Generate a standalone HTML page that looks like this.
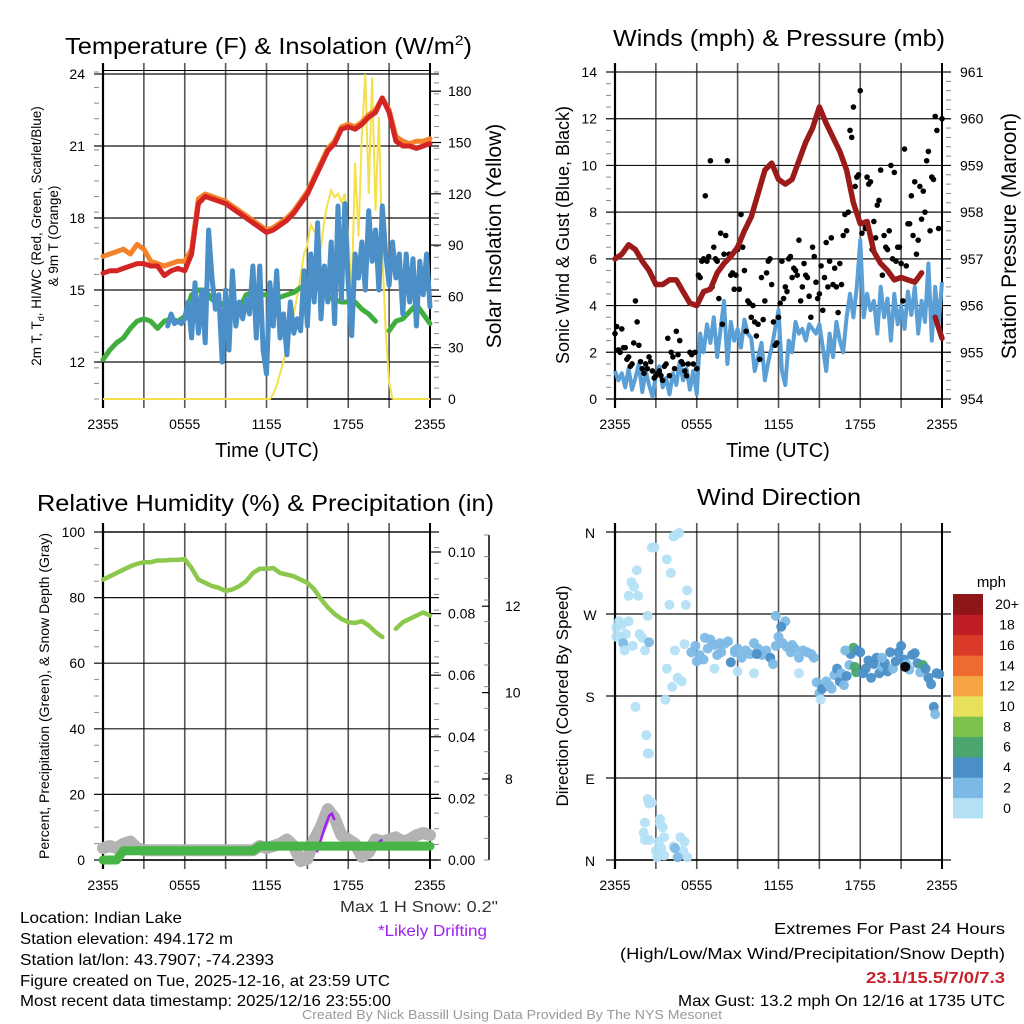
<!DOCTYPE html>
<html><head><meta charset="utf-8"><style>
body{margin:0;background:#fff;}
svg{display:block;font-family:"Liberation Sans",Arial,sans-serif;}
</style></head><body>
<svg id="c" width="1024" height="1024" viewBox="0 0 1024 1024">
<rect width="1024" height="1024" fill="#fff"/>
<g id="g"></g>
<text x="65" y="54" font-size="23" textLength="407" lengthAdjust="spacingAndGlyphs">Temperature (F) &amp; Insolation (W/m<tspan font-size="14" dy="-9">2</tspan><tspan dy="9">)</tspan></text>
<text x="613" y="46" font-size="23" textLength="332" lengthAdjust="spacingAndGlyphs">Winds (mph) &amp; Pressure (mb)</text>
<text x="37" y="511" font-size="23" textLength="457" lengthAdjust="spacingAndGlyphs">Relative Humidity (%) &amp; Precipitation (in)</text>
<text x="697" y="505" font-size="23" textLength="164" lengthAdjust="spacingAndGlyphs">Wind Direction</text>
<text transform="translate(41,236) rotate(-90)" font-size="13.5" text-anchor="middle">2m T, T<tspan font-size="9" dy="3">d</tspan><tspan dy="-3">, HI/WC (Red, Green, Scarlet/Blue)</tspan></text>
<text transform="translate(58,236) rotate(-90)" font-size="13.5" text-anchor="middle">&amp; 9m T (Orange)</text>
<text transform="translate(501,236) rotate(-90)" font-size="21" text-anchor="middle">Solar Insolation (Yellow)</text>
<text x="267" y="457" font-size="20" text-anchor="middle">Time (UTC)</text>
<text transform="translate(569,235) rotate(-90)" font-size="18" text-anchor="middle">Sonic Wind &amp; Gust (Blue, Black)</text>
<text transform="translate(1016,236) rotate(-90)" font-size="21" text-anchor="middle">Station Pressure (Maroon)</text>
<text x="778" y="457" font-size="20" text-anchor="middle">Time (UTC)</text>
<text transform="translate(49,696) rotate(-90)" font-size="14" text-anchor="middle">Percent, Precipitation (Green), &amp; Snow Depth (Gray)</text>
<text transform="translate(568,696) rotate(-90)" font-size="17" text-anchor="middle">Direction (Colored By Speed)</text>
<text x="1006" y="587" font-size="15" text-anchor="end">mph</text>
<text x="340" y="912" font-size="16" fill="#333" textLength="158" lengthAdjust="spacingAndGlyphs">Max 1 H Snow: 0.2"</text>
<text x="378" y="936" font-size="16" fill="#a020f0" textLength="109" lengthAdjust="spacingAndGlyphs">*Likely Drifting</text>
<g font-size="16">
<text x="20" y="923" textLength="162" lengthAdjust="spacingAndGlyphs">Location: Indian Lake</text>
<text x="20" y="944" textLength="213" lengthAdjust="spacingAndGlyphs">Station elevation: 494.172 m</text>
<text x="20" y="965" textLength="254" lengthAdjust="spacingAndGlyphs">Station lat/lon: 43.7907; -74.2393</text>
<text x="20" y="986" textLength="370" lengthAdjust="spacingAndGlyphs">Figure created on Tue, 2025-12-16, at 23:59 UTC</text>
<text x="20" y="1006" textLength="371" lengthAdjust="spacingAndGlyphs">Most recent data timestamp: 2025/12/16 23:55:00</text>
</g>
<g font-size="16">
<text x="774" y="934" textLength="231" lengthAdjust="spacingAndGlyphs">Extremes For Past 24 Hours</text>
<text x="620" y="959" textLength="385" lengthAdjust="spacingAndGlyphs">(High/Low/Max Wind/Precipitation/Snow Depth)</text>
<text x="866" y="983" font-weight="bold" fill="#c8202a" textLength="139" lengthAdjust="spacingAndGlyphs">23.1/15.5/7/0/7.3</text>
<text x="678" y="1006" textLength="327" lengthAdjust="spacingAndGlyphs">Max Gust: 13.2 mph On 12/16 at 1735 UTC</text>
</g>
<text x="302" y="1019" font-size="13" fill="#999" textLength="420" lengthAdjust="spacingAndGlyphs">Created By Nick Bassill Using Data Provided By The NYS Mesonet</text>
</svg>
<script>
// ---- data (hours after 2355) ----
const timeLabels=["2355","0555","1155","1755","2355"];
const tempTicks=[12,15,18,21,24];
const solarTicks=[0,30,60,90,120,150,180];
const windTicks=[0,2,4,6,8,10,12,14];
const presTicks=[954,955,956,957,958,959,960,961];
const rhTicks=[0,20,40,60,80,100];
const precipTicks=["0.00","0.02","0.04","0.06","0.08","0.10"];
const snowTicks=[8,10,12];
const dirLabels=["N","E","S","W","N"];
const cbLabels=["0","2","4","6","8","10","12","14","16","18","20+"];
const cbColors=["#b4e0f5","#7db9e5","#4a8fc8","#4aa66e","#7cc14c","#e6e05a","#f6a544","#ef6a2f","#dc3a28","#be1e23","#8e1518"];
// half-hourly
const tempRed=[15.7,15.8,15.8,15.9,16.0,16.1,16.1,16.0,16.0,15.6,15.8,15.9,15.8,16.5,18.6,18.9,18.8,18.7,18.6,18.4,18.2,18.0,17.8,17.6,17.4,17.5,17.7,17.9,18.2,18.6,19.0,19.6,20.2,20.8,21.1,21.7,21.8,21.7,21.9,22.2,22.4,23.0,22.4,21.2,21.0,21.0,20.9,21.0,21.1];
const temp9m=[16.4,16.5,16.6,16.7,16.5,16.9,16.7,16.2,16.1,16.0,16.1,16.2,16.2,16.7,18.8,19.0,18.9,18.8,18.7,18.5,18.3,18.1,17.9,17.7,17.5,17.6,17.8,18.0,18.3,18.7,19.1,19.7,20.3,20.9,21.2,21.8,21.9,21.8,22.0,22.3,22.5,23.0,22.5,21.4,21.2,21.1,21.2,21.2,21.3];
const dewpt=[12.1,12.5,12.8,13.0,13.4,13.7,13.8,13.7,13.4,13.7,13.8,13.7,13.9,14.8,15.0,15.0,14.6,14.5,14.3,14.0,14.2,14.8,14.9,14.8,14.8,14.7,14.7,14.8,14.9,15.1,15.1,15.1,15.0,14.7,14.6,14.5,14.5,14.5,14.2,14.0,13.7,null,13.3,13.7,13.8,14.1,14.4,14.0,13.6];
// quarter-hourly from t=4.75
const windChill=[13.5,14.0,13.6,13.7,13.6,13.8,14.5,13.0,15.3,13.2,15.0,12.8,17.5,15.5,14.2,14.8,12.0,15.0,12.5,15.8,13.5,14.5,13.8,14.6,14.0,16.0,13.0,16.0,12.5,11.5,15.3,13.5,15.8,13.0,14.0,12.3,14.5,13.2,13.8,13.3,15.8,13.5,16.5,14.5,17.8,13.8,16.0,14.5,17.0,13.6,18.5,14.6,18.6,15.2,13.1,16.5,15.5,17.0,15.0,18.3,16.2,17.5,15.0,18.5,16.5,15.2,17.0,15.5,16.5,14.0,16.5,14.5,16.3,13.5,16.2,14.8,16.5,14.3];
// quarter-hourly from t=12
const solar=[0,0,3,8,15,22,30,40,50,60,72,85,90,102,98,100,88,105,115,122,118,120,115,120,95,62,138,95,155,190,120,188,110,165,85,40,10,0];
// quarter-hourly
const windSpd=[1.2,0.8,1.1,0.5,1.3,0.4,0.9,1.5,0.3,1.2,0.6,0.1,1.0,1.4,0.5,0.9,0.2,1.1,0.6,1.6,0.8,1.3,0.4,1.2,0.2,2.8,2.0,3.2,2.4,3.5,1.8,3.0,4.2,1.5,3.3,2.5,3.0,2.2,3.4,2.8,2.6,1.2,1.8,2.4,0.8,1.6,2.2,3.0,3.8,1.2,0.6,2.5,2.0,3.3,2.8,3.0,2.5,3.2,3.0,2.8,3.2,2.2,1.2,2.8,1.8,3.3,2.5,2.0,3.5,4.5,3.5,4.8,6.8,3.5,4.5,3.8,4.2,2.8,4.8,3.5,4.3,2.5,4.5,3.2,4.0,3.0,4.6,3.6,4.8,2.8,4.2,3.3,5.8,2.5,4.8,3.2,5.0];
const windGust=[2.8,2.1,3.0,2.2,1.8,1.5,4.2,2.3,1.3,1.5,1.8,1.2,1.0,1.2,0.8,1.5,1.0,1.8,2.9,2.5,1.5,1.0,2.0,1.5,1.3,5.2,6.0,5.9,10.2,6.5,5.9,7.1,6.2,10.2,5.3,4.7,6.4,7.9,5.5,4.2,3.5,3.3,3.2,5.2,4.2,5.9,4.9,2.3,3.5,5.9,4.8,6.0,5.2,5.5,6.8,4.8,5.3,4.4,6.5,5.0,4.5,3.8,6.7,5.9,4.9,4.8,5.8,7.0,7.2,11.5,12.5,9.5,13.2,7.5,9.5,9.3,7.6,8.3,9.8,7.0,6.4,10.0,9.7,6.5,5.8,10.7,7.5,8.7,9.3,6.8,7.7,8.0,10.6,9.5,12.1,7.3,12.0];
const windGust2=[3.1,2.0,2.2,1.7,1.4,2.4,3.3,1.6,1.1,1.3,1.6,0.9,1.1,1.0,1.4,2.6,2.0,1.3,1.9,1.6,1.2,1.5,1.9,2.0,5.3,5.9,8.7,6.1,4.8,6.0,4.3,3.2,7.0,6.2,5.4,5.3,4.7,6.5,2.9,4.1,4.0,2.7,1.7,3.4,5.4,6.0,3.3,2.4,4.1,4.3,4.6,6.1,5.6,5.3,4.2,5.8,5.2,3.5,6.1,4.3,5.7,5.2,4.8,6.9,5.6,3.7,4.9,7.9,8.0,11.2,9.1,9.6,7.1,7.3,9.2,6.4,6.9,8.5,5.3,6.5,7.2,6.0,5.9,6.5,4.2,5.7,7.5,7.0,6.2,9.1,8.9,10.2,7.2,9.4,11.5];
// half-hourly
const pressure=[957.0,957.1,957.3,957.2,956.95,956.75,956.45,956.45,956.55,956.55,956.3,956.05,956.0,956.3,956.35,956.7,956.9,957.05,957.25,957.6,957.9,958.4,958.9,959.05,958.7,958.6,958.7,959.1,959.5,959.8,960.25,959.9,959.6,959.3,958.9,958.2,957.75,957.8,957.15,956.9,956.75,956.55,956.6,956.55,956.5,956.7,null,955.75,955.3];
const rh=[85.5,86.5,87.5,88.5,89.5,90.3,90.8,90.8,91.3,91.3,91.5,91.5,91.7,89,85.5,84.5,83.5,83,82,82.5,83.5,85,87.5,88.8,88.8,89,87.5,87,86.5,85.5,84.5,82.5,79.5,77,75,73.5,72.5,72.3,72.8,71.5,69.5,68,null,70.5,72.5,73.5,74.5,75.5,74.5,72.5];
const precip=[0,0,0,0.003,0.003,0.003,0.003,0.003,0.003,0.003,0.003,0.003,0.003,0.003,0.003,0.003,0.003,0.003,0.003,0.003,0.003,0.003,0.003,0.0045,0.0045,0.0045,0.0045,0.0045,0.0045,0.0045,0.0045,0.0045,0.0045,0.0045,0.0045,0.0045,0.0045,0.0045,0.0045,0.0045,0.0045,0.0045,0.0045,0.0045,0.0045,0.0045,0.0045,0.0045,0.0045];
const snowDepth=[6.4,6.45,6.4,6.5,6.55,6.4,6.35,6.35,6.35,6.35,6.35,6.35,6.35,6.35,6.35,6.35,6.35,6.35,6.35,6.35,6.35,6.35,6.35,6.45,6.4,6.45,6.5,6.6,6.45,6.1,6.15,6.6,6.9,7.3,7.1,6.7,6.6,6.5,6.2,6.3,6.6,6.55,6.6,6.65,6.55,6.6,6.7,6.75,6.7];
const driftT=[15.7,16.0,16.3,16.6,16.8,17.0,20.1,20.5];
const driftV=[6.3,6.6,6.9,7.15,7.2,7.05,6.5,6.6];
// wind direction scatter
const dirTime=[0.1,0.1,0.3,0.4,0.5,0.6,0.7,0.8,1.0,1.2,1.4,1.6,1.0,1.3,1.5,1.7,1.8,2.0,2.2,2.4,2.5,2.3,2.4,2.5,2.4,2.5,2.7,2.2,2.1,2.2,2.5,2.7,2.9,3.0,3.1,3.2,3.3,3.3,3.5,3.6,3.4,3.6,3.8,4.0,3.8,4.1,4.3,4.4,4.7,3.7,4.2,4.4,4.6,4.9,5.1,5.2,5.3,5.0,5.1,5.3,4.3,4.4,4.6,4.8,5.6,5.9,6.2,6.5,6.8,7.0,7.3,7.5,7.8,8.0,8.3,8.5,8.8,9.0,9.3,9.6,9.9,10.2,10.5,10.8,11.1,11.4,11.6,11.8,12.0,12.3,12.6,12.9,13.2,13.5,13.8,14.1,14.4,14.6,7.3,9.0,10.2,11.8,12.5,12.2,13.5,14.8,15.0,15.1,15.2,15.5,15.7,15.9,16.1,16.3,16.5,16.6,16.8,17.0,17.2,17.3,17.5,17.6,17.7,17.8,18.0,18.2,18.4,18.6,18.8,19.0,19.2,19.4,19.6,19.8,20.0,20.2,20.4,20.6,20.8,21.0,21.2,21.4,21.6,21.8,22.0,22.2,22.4,22.6,22.8,23.0,23.2,23.4,23.5,23.6,23.8,6.0,6.6,7.7,8.8,10.4,13.0,16.9,19.6,21.3];
const dirDeg=[255,245,262,245,258,238,230,248,290,305,300,318,262,235,168,290,248,244,230,268,239,137,117,117,67,62,63,41,30,22,22,343,343,10,3,20,45,40,36,25,13,5,330,280,210,315,355,356,359,176,190,230,200,196,237,280,296,10,20,3,15,13,3,25,228,235,225,220,232,242,236,225,228,237,240,217,228,232,222,230,226,238,232,225,230,222,215,235,245,238,234,228,232,222,230,228,226,222,210,207,205,268,262,256,205,195,183,176,188,196,192,188,203,210,196,205,192,202,214,226,233,212,206,230,228,205,210,219,200,215,222,205,212,216,207,228,210,218,228,235,220,215,209,225,227,216,206,214,210,200,193,168,160,205,204,218,244,238,230,226,236,230,222,212];
const dirSpd=[1,1,1,1,0.5,3,1,1,1,1,1,1,1,1,0,1,1,1,1,1,3,1,1,1,1,1,1,1,1,1,1,1,1,0,0,1,1,1,1,1,0,1,1,1,1,1,1,1,1,1,1,0,1,1,1,1,1,1,1,1,1,3,3,1,2,2,2,2,2,2,2,2,2,2,2,4,2,2,2,2,2,2,2,2,2,4,2,2,2,2,2,2,2,2,2,2,2,2,1,1,0,2,2,4,1,2,2,1,4,2,2,2,2,4,4,2,2,4,2,4,6,6,6,4,4,4,4,4,4,4,4,4,2,4,4,4,2,4,4,4,4,2,2,4,4,4,2,6,4,4,4,4,2,4,4,2,2,3,3,4,2,2,2];

// ---- drawing ----
const NS='http://www.w3.org/2000/svg';
const G=document.getElementById('g');
function mk(tag,attrs,name,parent){
  const el=document.createElementNS(NS,tag);
  for(const k in attrs) el.setAttribute(k,attrs[k]);
  
  
  (parent||G).appendChild(el);
  return el;
}
function txt(x,y,s,size,anchor,name){
  const t=mk('text',{x:x,y:y,'font-size':size,'text-anchor':anchor},name);
  t.textContent=s;return t;
}
function linePath(ts,vs,xf,yf){
  let d='',pen=false;
  for(let i=0;i<vs.length;i++){
    if(vs[i]===null||vs[i]===undefined){pen=false;continue;}
    const X=xf(ts[i]).toFixed(1),Y=yf(vs[i]).toFixed(1);
    d+=(pen?'L':'M')+X+' '+Y;pen=true;
  }
  return d;
}
function seq(n,start,step){const a=[];for(let i=0;i<n;i++)a.push(start+i*step);return a;}

function panel(p){
  const xs=t=>p.x0+t*(p.x1-p.x0)/24;
  for(let i=0;i<=8;i++){
    const X=xs(i*3);
    mk('line',{x1:X,x2:X,y1:p.yTop-9,y2:p.yBot+9,stroke:'#555','stroke-width':1.6},p.name+'-vgrid');
  }
  timeLabels.forEach((l,i)=>{txt(xs(i*6),p.yBot+30,l,14,'middle',p.name+'-x-tick-label');});
  return xs;
}
function hgrid(p,Y){mk('line',{x1:p.x0-9,x2:p.x1+(p.rightTicks?9:0),y1:Y,y2:Y,stroke:'#111','stroke-width':1.2},p.name+'-hgrid');}
function frame(p){
  mk('line',{x1:p.x0,x2:p.x0,y1:p.yTop-9,y2:p.yBot+9,stroke:'#000','stroke-width':2.2},p.name+'-left-axis');
  mk('line',{x1:p.x1,x2:p.x1,y1:p.yTop-9,y2:p.yBot+9,stroke:'#000','stroke-width':2},p.name+'-right-axis');
  mk('line',{x1:p.x0,x2:p.x1,y1:p.yBot,y2:p.yBot,stroke:'#000','stroke-width':1.5},p.name+'-bottom-axis');
}
function minorTicks(x,y0,y1,n,dir,name){
  for(let i=0;i<=n;i++){const Y=y0+(y1-y0)*i/n;mk('line',{x1:x,x2:x+dir*5,y1:Y,y2:Y,stroke:'#888','stroke-width':1},name);}
}

// ===== Panel 1: temperature =====
const P1={x0:103,x1:430,yTop:72,yBot:399,name:'temp',rightTicks:true};
const xs1=panel(P1);
const yT=v=>362-(v-12)*24;
const yS=v=>399-v*(51.3/30);
minorTicks(99,72,399,21,-1,'temp-left-minor-tick');
minorTicks(434,72,399,30,1,'solar-right-minor-tick');
tempTicks.forEach(v=>{hgrid(P1,yT(v));txt(85,yT(v)+5,String(v),14,'end','temp-y-tick-label');});
mk('line',{x1:103,x2:430,y1:70.5,y2:70.5,stroke:'#000','stroke-width':1},'temp-top-border');
solarTicks.forEach(v=>{mk('line',{x1:430,x2:441,y1:yS(v),y2:yS(v),stroke:'#000','stroke-width':1.2},'solar-y-tick');txt(448,yS(v)+5,String(v),14,'start','solar-y-tick-label');});
frame(P1);
const t48=seq(49,0,0.5);
mk('path',{d:linePath(seq(38,12,0.25),solar,xs1,yS),fill:'none',stroke:'#f5e04a','stroke-width':2},'solar-line');
mk('path',{d:'M'+xs1(0)+' '+yS(0)+'L'+xs1(12)+' '+yS(0)+'M'+xs1(21.25)+' '+yS(0)+'L'+xs1(24)+' '+yS(0),fill:'none',stroke:'#f5e04a','stroke-width':2},'solar-zero-line');
mk('path',{d:linePath(t48,dewpt,xs1,yT),fill:'none',stroke:'#3fae3f','stroke-width':5,'stroke-linejoin':'round','stroke-linecap':'round'},'dewpoint-line');
mk('path',{d:linePath(seq(78,4.75,0.25),windChill,xs1,yT),fill:'none',stroke:'#4a8fc8','stroke-width':5,'stroke-linejoin':'round','stroke-linecap':'round'},'windchill-line');
mk('path',{d:linePath(t48,temp9m,xs1,yT),fill:'none',stroke:'#f4822a','stroke-width':5,'stroke-linejoin':'round','stroke-linecap':'round'},'temp-9m-line');
mk('path',{d:linePath(t48,tempRed,xs1,yT),fill:'none',stroke:'#d42525','stroke-width':5,'stroke-linejoin':'round','stroke-linecap':'round'},'temp-2m-line');

// ===== Panel 2: winds =====
const P2={x0:615,x1:942,yTop:72,yBot:399,name:'wind',rightTicks:true};
const xs2=panel(P2);
const yW=v=>399-v*(327/14);
const yP=v=>399-(v-954)*(327/7);
minorTicks(611,72,399,28,-1,'wind-left-minor-tick');
minorTicks(946,72,399,35,1,'pressure-right-minor-tick');
windTicks.forEach(v=>{hgrid(P2,yW(v));txt(597,yW(v)+5,String(v),14,'end','wind-y-tick-label');});
presTicks.forEach(v=>{txt(960,yP(v)+5,String(v),14,'start','pressure-y-tick-label');});
frame(P2);
const t96=seq(97,0,0.25);
mk('path',{d:linePath(t96,windSpd,xs2,yW),fill:'none',stroke:'#5a9fd6','stroke-width':4,'stroke-linejoin':'round'},'sonic-wind-line');
windGust.forEach((v,i)=>{mk('circle',{cx:xs2(t96[i]),cy:yW(v),r:2.8,fill:'#000'},'gust-dot');});
windGust2.forEach((v,i)=>{mk('circle',{cx:xs2(0.125+i*0.25),cy:yW(v),r:2.8,fill:'#000'},'gust-dot');});
mk('path',{d:linePath(t48,pressure,xs2,yP),fill:'none',stroke:'#9b1b1b','stroke-width':5.5,'stroke-linejoin':'round','stroke-linecap':'round'},'pressure-line');

// ===== Panel 3: RH & precip =====
const P3={x0:103,x1:430,yTop:532,yBot:860,name:'rh',rightTicks:true};
const xs3=panel(P3);
const yR=v=>860-v*3.28;
const yPr=v=>860-v*3080;
const ySn=v=>779-(v-8)*43.2;
minorTicks(99,532,860,20,-1,'rh-left-minor-tick');
minorTicks(434,532,860,21,1,'precip-right-minor-tick');
rhTicks.forEach(v=>{hgrid(P3,yR(v));txt(85,yR(v)+5,String(v),14,'end','rh-y-tick-label');});
mk('line',{x1:103,x2:430,y1:532,y2:532,stroke:'#000','stroke-width':1.2},'rh-top-border');
precipTicks.forEach(v=>{const Y=yPr(parseFloat(v));mk('line',{x1:430,x2:441,y1:Y,y2:Y,stroke:'#000','stroke-width':1.2},'precip-y-tick');txt(448,Y+5,v,14,'start','precip-y-tick-label');});
mk('line',{x1:489,x2:489,y1:535,y2:860,stroke:'#000','stroke-width':1.5},'snow-axis');
for(let i=0;i<=15;i++){const Y=535+i*(325/15);mk('line',{x1:489,x2:484,y1:Y,y2:Y,stroke:'#888','stroke-width':1},'snow-minor-tick');}
snowTicks.forEach(v=>{mk('line',{x1:489,x2:482,y1:ySn(v),y2:ySn(v),stroke:'#000','stroke-width':1.2},'snow-y-tick');txt(505,ySn(v)+5,String(v),14,'start','snow-y-tick-label');});
frame(P3);
mk('path',{d:linePath(t48,snowDepth,xs3,ySn),fill:'none',stroke:'#b3b3b3','stroke-width':12,'stroke-linejoin':'round','stroke-linecap':'round'},'snow-depth-line');
mk('path',{d:linePath(driftT.slice(0,6),driftV.slice(0,6),xs3,ySn),fill:'none',stroke:'#a020f0','stroke-width':2.5},'drifting-line-1');
mk('path',{d:linePath(driftT.slice(6),driftV.slice(6),xs3,ySn),fill:'none',stroke:'#a020f0','stroke-width':2.5},'drifting-line-2');
mk('path',{d:linePath(t48,precip,xs3,yPr),fill:'none',stroke:'#46b446','stroke-width':9,'stroke-linejoin':'round','stroke-linecap':'round'},'precip-line');
mk('path',{d:linePath(t48,rh,xs3,yR),fill:'none',stroke:'#8cc84b','stroke-width':4.5,'stroke-linejoin':'round','stroke-linecap':'round'},'rh-line');

// ===== Panel 4: wind direction =====
const P4={x0:615,x1:942,yTop:532,yBot:860,name:'dir',rightTicks:true};
const xs4=panel(P4);
const yD=v=>860-v*(328/360);
dirLabels.forEach((l,i)=>{hgrid(P4,yD(i*90));txt(590,yD(i*90)+6,l,14,'middle','direction-tick-label');});
frame(P4);
dirTime.forEach((t,i)=>{
  const b=Math.min(10,Math.floor(dirSpd[i]/2));
  mk('circle',{cx:xs4(t),cy:yD(dirDeg[i]),r:5,fill:cbColors[b],'fill-opacity':0.95},'direction-dot');
});
// colorbar
const cbTop=594,cbH=224/11;
cbColors.forEach((c,i)=>{
  const Y=cbTop+(10-i)*cbH;
  mk('rect',{x:953,y:Y,width:30,height:cbH+0.5,fill:c},'colorbar-box');
  txt(1007,Y+cbH/2+5,cbLabels[i],14,'middle','colorbar-label');
});
</script>
</body></html>
